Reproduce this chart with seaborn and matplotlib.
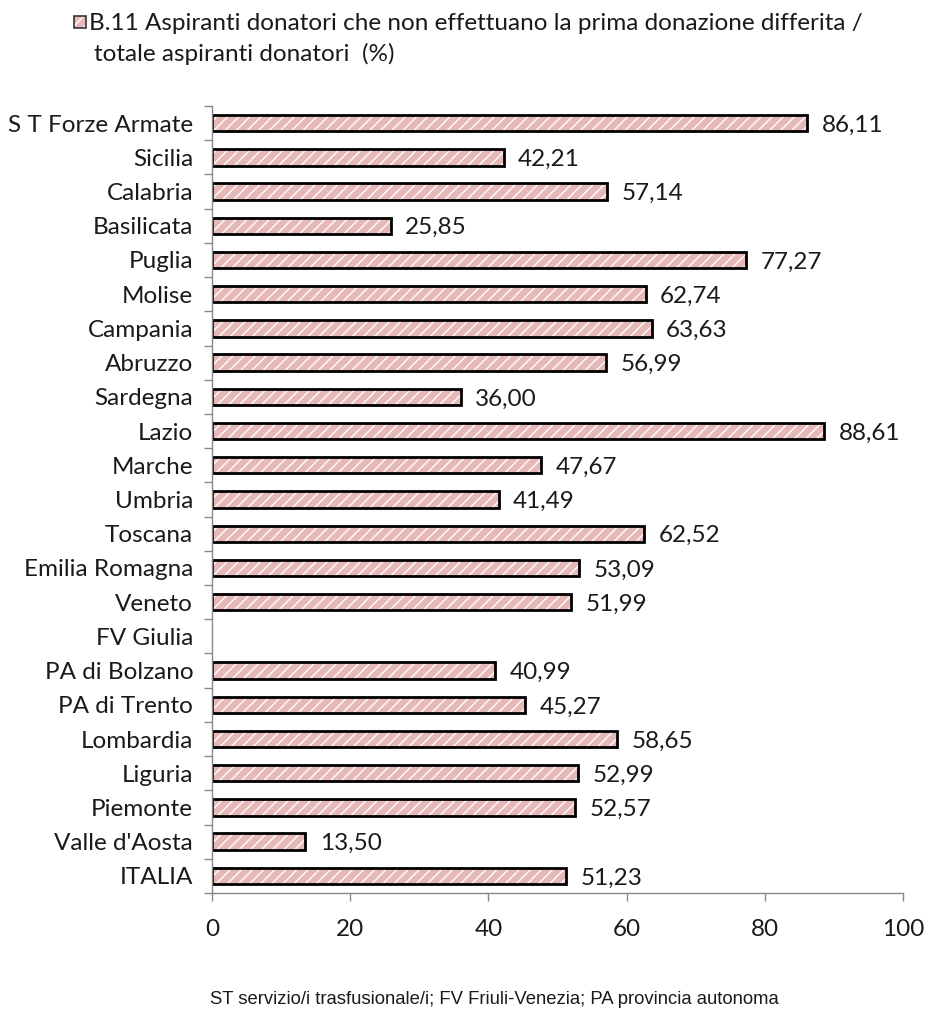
import numpy as np
import pandas as pd
import matplotlib
matplotlib.use("Agg")
import matplotlib.pyplot as plt
from matplotlib.patches import Rectangle
import seaborn as sns

regions = ["S T Forze Armate", "Sicilia", "Calabria", "Basilicata", "Puglia", "Molise",
           "Campania", "Abruzzo", "Sardegna", "Lazio", "Marche", "Umbria", "Toscana",
           "Emilia Romagna", "Veneto", "FV Giulia", "PA di Bolzano", "PA di Trento",
           "Lombardia", "Liguria", "Piemonte", "Valle d'Aosta", "ITALIA"]
values = [86.11, 42.21, 57.14, 25.85, 77.27, 62.74, 63.63, 56.99, 36.00, 88.61, 47.67,
          41.49, 62.52, 53.09, 51.99, np.nan, 40.99, 45.27, 58.65, 52.99, 52.57, 13.50, 51.23]
x_ticks = [0, 20, 40, 60, 80, 100]
legend_lines = ["B.11 Aspiranti donatori che non effettuano la prima donazione differita /",
                "totale aspiranti donatori  (%)"]
footnote = "ST servizio/i trasfusionale/i; FV Friuli-Venezia; PA provincia autonoma"

df = pd.DataFrame({"regione": regions, "valore": values})

sns.set_style("white")
plt.rcParams["font.family"] = ["Lato", "DejaVu Sans"]
plt.rcParams["hatch.linewidth"] = 1.0

FILL = "#E6B9B8"
FONT = 17.5
TXT = "#1a1a1a"
W, H = 928, 1016

fig = plt.figure(figsize=(W / 100, H / 100), dpi=100)
ax = fig.add_axes([212 / W, 1 - 893 / H, (903 - 212) / W, (893 - 106) / H])

# hatched pink fill
sns.barplot(data=df, x="valore", y="regione", orient="h", ax=ax, color=FILL,
            saturation=1, width=0.48, linewidth=0, edgecolor="white", hatch="///")
for p in ax.patches:
    p.set_facecolor(FILL)
    p.set_edgecolor("white")
# black outlines on top
sns.barplot(data=df, x="valore", y="regione", orient="h", ax=ax, fill=False,
            width=0.48, linewidth=2.0, edgecolor="black")

for i, v in enumerate(values):
    if not np.isnan(v):
        ax.text(v + 2.1, i + 0.06, f"{v:.2f}".replace(".", ","), va="center", ha="left",
                fontsize=FONT, color=TXT)

ax.set_xlim(0, 100)
ax.set_ylim(len(regions) - 0.5, -0.5)
ax.set_xticks(x_ticks)
ax.set_xticklabels([str(t) for t in x_ticks], fontsize=FONT, color=TXT)
ax.set_yticks(range(len(regions)))
ax.set_yticklabels(regions, fontsize=FONT, color=TXT)
ax.set_yticks(np.arange(-0.5, len(regions), 1), minor=True)
ax.tick_params(axis="y", which="major", left=True, length=0, pad=13.5)
ax.tick_params(axis="y", which="minor", left=True, length=6, width=1, color="#888888",
               direction="out")
ax.tick_params(axis="x", which="major", bottom=True, length=6, width=1, color="#888888",
               direction="out", pad=13)
ax.set_xlabel("")
ax.set_ylabel("")
for s in ["top", "right"]:
    ax.spines[s].set_visible(False)
for s in ["left", "bottom"]:
    ax.spines[s].set_color("#888888")
    ax.spines[s].set_linewidth(1)

# legend key and its two-line label
lx, ly, lw, lh = 74 / W, 1 - 28 / H, 12 / W, 12 / H
fig.add_artist(Rectangle((lx, ly), lw, lh, transform=fig.transFigure, facecolor=FILL,
                         edgecolor="white", hatch="///", linewidth=0))
fig.add_artist(Rectangle((lx, ly), lw, lh, transform=fig.transFigure, fill=False,
                         edgecolor="#333333", linewidth=1.2))
fig.text(89 / W, 1 - 30 / H, legend_lines[0], fontsize=FONT, va="baseline", ha="left",
         color=TXT)
fig.text(94 / W, 1 - 61 / H, legend_lines[1], fontsize=FONT, va="baseline", ha="left",
         color=TXT)

fig.text(210 / W, 1 - 1000 / H, footnote, fontsize=13.3, va="center", ha="left",
         family=["Liberation Sans"], color=TXT)

fig.savefig("out.png", dpi=100)
